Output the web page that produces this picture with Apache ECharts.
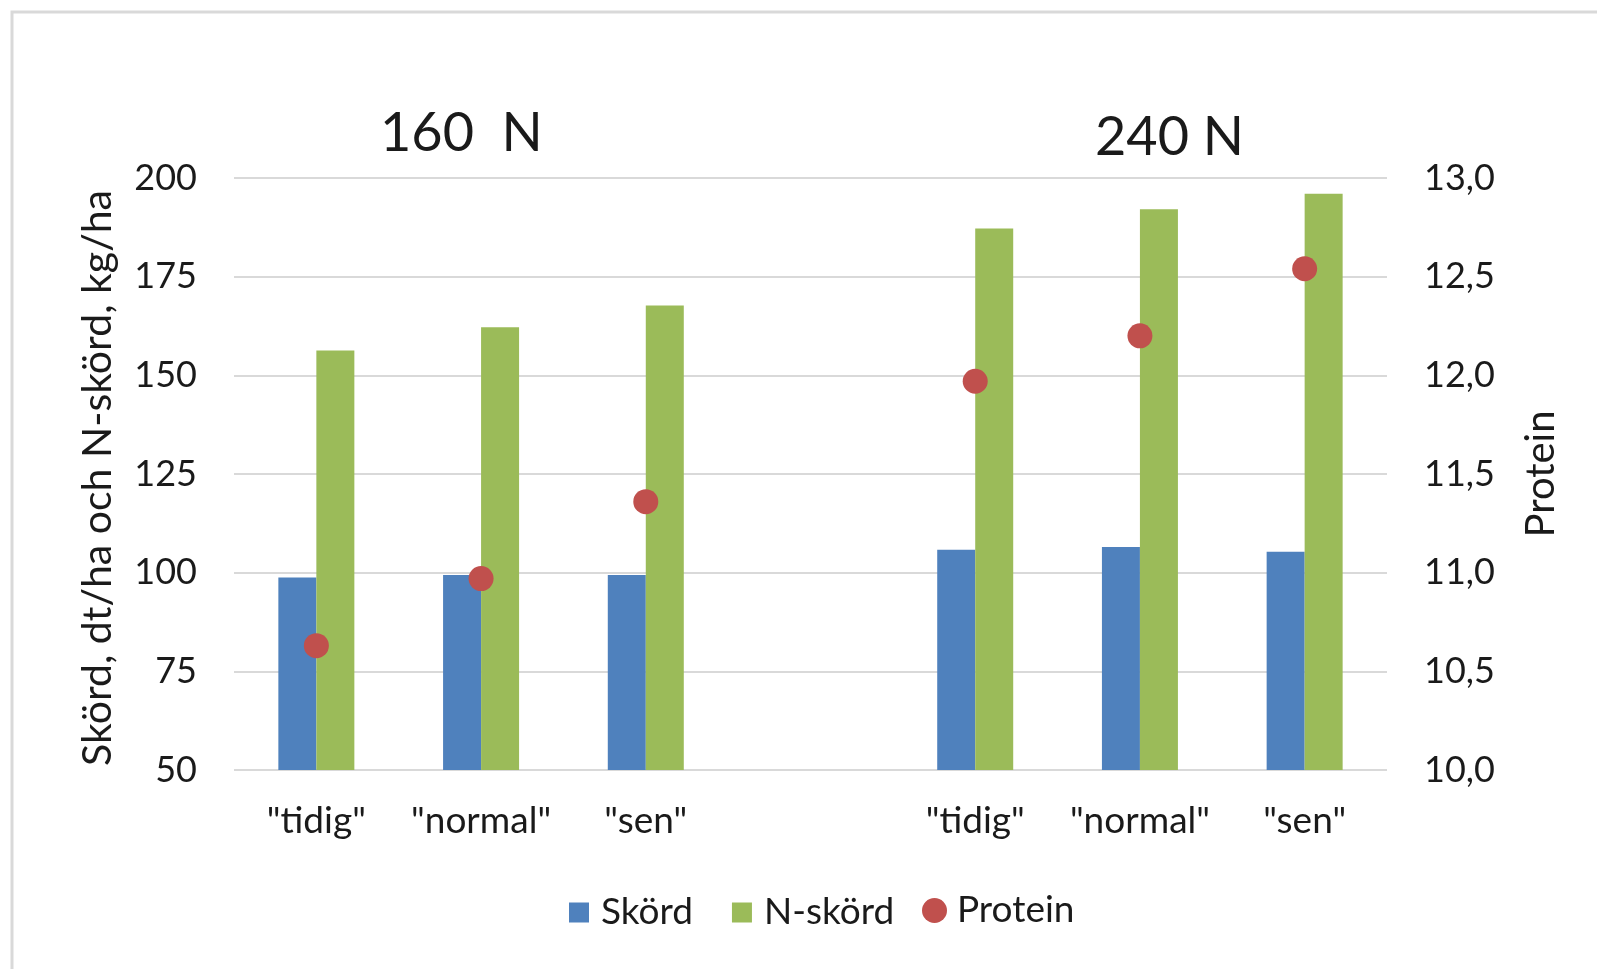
<!DOCTYPE html>
<html>
<head>
<meta charset="utf-8">
<script src="https://cdn.jsdelivr.net/npm/echarts@6/dist/echarts.min.js"></script>
<style>
  html, body { margin: 0; padding: 0; background: #ffffff; }
  #chart { width: 1597px; height: 969px; }
</style>
</head>
<body>
<div id="chart"></div>
<script>
// Harvest timing groups at two nitrogen levels; the fourth slot is an empty spacer
const categories = ['"tidig"', '"normal"', '"sen"', '', '"tidig"', '"normal"', '"sen"'];
const groupTitles = ['160  N', '240 N'];

// Yield (dt/ha) and N-yield (kg/ha), left axis
const skord  = [98.8, 99.4, 99.4, null, 105.8, 106.5, 105.3];
const nSkord = [156.3, 162.2, 167.7, null, 187.2, 192.1, 196.0];
// Protein content (%), right axis
const protein = [10.63, 10.97, 11.36, null, 11.97, 12.20, 12.54];

const leftTicks  = { min: 50, max: 200, interval: 25 };
const rightTicks = { min: 10, max: 13, interval: 0.5 };

const FONT = 'Lato';
const TXT = '#1a1a1a';
const BLUE = '#4f81bd', GREEN = '#9bbb59', RED = '#c0504d';

const chart = echarts.init(document.getElementById('chart'), null, { renderer: 'canvas' });

chart.setOption({
  backgroundColor: '#ffffff',
  animation: false,
  textStyle: { fontFamily: FONT, color: TXT },
  graphic: [{
    type: 'rect',
    shape: { x: 12, y: 12, width: 1700, height: 1100 },
    style: { fill: 'none', stroke: '#d9d9d9', lineWidth: 3 },
    silent: true,
    z: -10
  }],
  title: [
    { text: groupTitles[0], left: 375, top: 102,
      textStyle: { fontFamily: FONT, fontSize: 54, fontWeight: 'normal', color: TXT } },
    { text: groupTitles[1], left: 1090, top: 106,
      textStyle: { fontFamily: FONT, fontSize: 54, fontWeight: 'normal', color: TXT } }
  ],
  legend: [
    {
      left: 564, top: 889,
      itemWidth: 20, itemHeight: 20, itemGap: 39,
      textStyle: { fontFamily: FONT, fontSize: 37, color: TXT, padding: [0, 0, 0, 7] },
      data: [
        { name: 'Skörd', icon: 'rect' },
        { name: 'N-skörd', icon: 'rect' }
      ]
    },
    {
      left: 917, top: 887,
      itemWidth: 25, itemHeight: 25,
      textStyle: { fontFamily: FONT, fontSize: 37, color: TXT, padding: [0, 0, 0, 5] },
      data: [{ name: 'Protein', icon: 'circle', itemStyle: { color: RED } }]
    }
  ],
  grid: { left: 234, right: 210, top: 178, bottom: 199 },
  xAxis: {
    type: 'category',
    data: categories,
    axisLine: { show: false },
    axisTick: { show: false },
    axisLabel: { fontFamily: FONT, fontSize: 37, color: TXT, margin: 33, interval: 0 }
  },
  yAxis: [
    {
      type: 'value',
      min: leftTicks.min, max: leftTicks.max, interval: leftTicks.interval,
      name: 'Skörd, dt/ha och N-skörd, kg/ha',
      nameLocation: 'middle',
      nameGap: 116,
      nameTextStyle: { fontFamily: FONT, fontSize: 41, color: TXT, padding: [0, 8, 0, 0] },
      axisLine: { show: false },
      axisTick: { show: false },
      axisLabel: { fontFamily: FONT, fontSize: 36, color: TXT, margin: 37 },
      splitLine: { lineStyle: { color: '#d9d9d9', width: 2 } }
    },
    {
      type: 'value',
      min: rightTicks.min, max: rightTicks.max, interval: rightTicks.interval,
      name: 'Protein',
      nameLocation: 'middle',
      nameGap: 134,
      nameTextStyle: { fontFamily: FONT, fontSize: 40, color: TXT },
      axisLine: { show: false },
      axisTick: { show: false },
      splitLine: { show: false },
      axisLabel: {
        fontFamily: FONT, fontSize: 36, color: TXT, margin: 37,
        formatter: v => v.toFixed(1).replace('.', ',')
      }
    }
  ],
  series: [
    {
      name: 'Skörd', type: 'bar', data: skord, yAxisIndex: 0,
      barWidth: 38, barGap: '0%',
      itemStyle: { color: BLUE }
    },
    {
      name: 'N-skörd', type: 'bar', data: nSkord, yAxisIndex: 0,
      barWidth: 38, barGap: '0%',
      itemStyle: { color: GREEN }
    },
    {
      name: 'Protein', type: 'scatter', data: protein, yAxisIndex: 1,
      symbol: 'circle', symbolSize: 25,
      itemStyle: { color: RED, opacity: 1 },
      z: 5
    }
  ]
});
</script>
</body>
</html>
